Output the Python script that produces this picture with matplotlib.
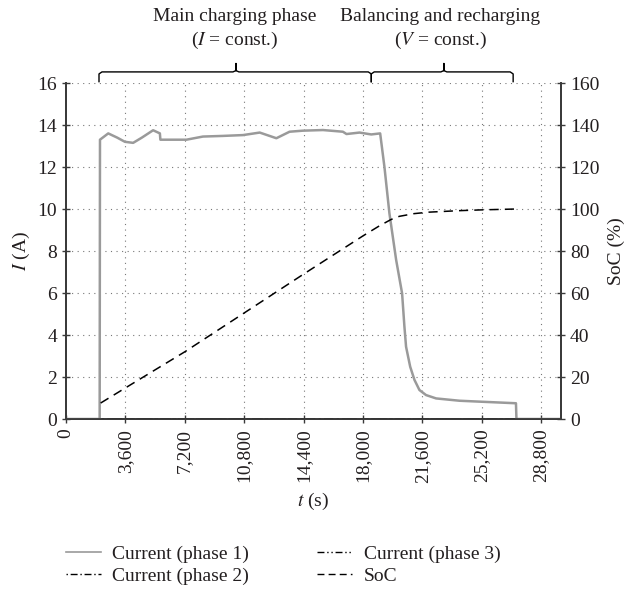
import matplotlib
matplotlib.use("Agg")
import matplotlib.pyplot as plt
from matplotlib.lines import Line2D
import matplotlib.transforms as mtransforms

plt.rcParams["font.family"] = ["Liberation Serif", "DejaVu Serif"]
plt.rcParams["mathtext.fontset"] = "stix"
plt.rcParams["font.size"] = 14

# Phase-1 current (A) over time (s)
t_i1 = [0, 2040, 2060, 2560, 3100, 3570, 4070, 4600, 5280, 5690, 5720, 6490,
        7300, 8300, 9500, 10730, 11740, 12750, 13550, 14360, 15570, 16780,
        17000, 17790, 18500, 19040, 19300, 19600, 20010, 20370, 20510, 20610,
        20860, 21120, 21420, 21820, 22430, 23840, 25250, 27270, 27300, 30000]
i_ph1 = [0, 0, 13.3, 13.6, 13.4, 13.2, 13.15, 13.4, 13.75, 13.6, 13.3, 13.3,
         13.3, 13.45, 13.48, 13.52, 13.64, 13.37, 13.68, 13.73, 13.76, 13.68,
         13.57, 13.64, 13.55, 13.6, 12.0, 9.8, 7.57, 5.98, 4.4, 3.44,
         2.49, 1.86, 1.38, 1.14, 0.98, 0.87, 0.82, 0.75, 0, 0]

# Phase-2 and phase-3 currents stay at zero
t_ph = [0, 30000]
i_ph2 = [0, 0]
i_ph3 = [0, 0]

# State of charge (%)
t_soc = [2100, 3600, 7200, 10800, 14400, 18000, 19000, 19700, 20200, 21100,
         22000, 23800, 25250, 27300]
soc = [7.6, 14.8, 32, 50.5, 69, 87.2, 92, 95, 96.5, 97.8, 98.5, 99.2, 99.6, 100]

x_ticks = [0, 3600, 7200, 10800, 14400, 18000, 21600, 25200, 28800]
x_tick_labels = ["0", "3,600", "7,200", "10,800", "14,400", "18,000",
                 "21,600", "25,200", "28,800"]
y_ticks = [0, 2, 4, 6, 8, 10, 12, 14, 16]
soc_ticks = [0, 20, 40, 60, 80, 100, 120, 140, 160]

# Phase brackets: (start, tip, end) in seconds
phase_brackets = [(2000, 10300, 18500), (18500, 22900, 27100)]
phase_titles = ["Main charging phase\n($I$ = const.)",
                "Balancing and recharging\n($V$ = const.)"]
title_x = [10200, 22700]

text_color = "#231f20"
spine_color = "#3a3a3a"
gray = "#9a9a9a"

fig = plt.figure(figsize=(6.3, 5.95), dpi=100)
ax = fig.add_axes([66 / 630, 1 - 419 / 595, (561 - 66) / 630, (419 - 83) / 595])
ax2 = ax.twinx()

ax.set_xlim(0, 30000)
ax.set_ylim(0, 16)
ax2.set_ylim(0, 160)

dot = (0, (1, 4))
for xv in x_ticks[1:]:
    ax.axvline(xv, color="#777777", lw=0.8, ls=dot, zorder=0)
for yv in y_ticks[1:]:
    ax.axhline(yv, color="#777777", lw=0.8, ls=dot, zorder=0)

ax.plot(t_ph, i_ph2, color="black", lw=1.3, ls=(0, (1, 2, 5, 2)), zorder=3)
ax.plot(t_ph, i_ph3, color="black", lw=1.3, ls=(0, (5, 2, 1, 2, 1, 2)), zorder=3)
ax.plot(t_i1, i_ph1, color=gray, lw=1.8, zorder=4, solid_joinstyle="round")
ax2.plot(t_soc, soc, color="black", lw=1.1, ls=(0, (6, 4)), zorder=5)

ax.set_xticks(x_ticks)
ax.set_xticklabels(x_tick_labels, rotation=90)
ax.set_yticks(y_ticks)
ax2.set_yticks(soc_ticks)

for a in (ax, ax2):
    a.tick_params(direction="inout", length=6, width=1, color=spine_color,
                  labelcolor=text_color, labelsize=14)
    a.spines["top"].set_visible(False)
    for s in ("left", "right", "bottom"):
        a.spines[s].set_color(spine_color)
        a.spines[s].set_linewidth(1.3)
ax.tick_params(axis="x", pad=4)

ax.set_xlabel("$t$ (s)", color=text_color, fontsize=14, labelpad=6)
ax.set_ylabel("$I$ (A)", color=text_color, fontsize=14, labelpad=4)
ax2.set_ylabel("SoC (%)", color=text_color, fontsize=14, labelpad=6)

# Curly brackets above the axes
trans = mtransforms.blended_transform_factory(ax.transData, ax.transAxes)
y_end, y_bar, y_tip = 1.004, 1.033, 1.058
for (x0, xm, x1), title, tx in zip(phase_brackets, phase_titles, title_x):
    r = 180
    xs = [x0, x0, x0 + r, xm - r, xm, xm, xm, xm + r, x1 - r, x1, x1]
    ys = [y_end, y_bar - 0.006, y_bar, y_bar, y_bar + 0.004, y_tip,
          y_bar + 0.004, y_bar, y_bar, y_bar - 0.006, y_end]
    ax.plot(xs, ys, color="black", lw=1.0, transform=trans, clip_on=False)
    ax.text(tx, 1.095, title, transform=trans, ha="center", va="bottom",
            fontsize=14, color=text_color, linespacing=1.3)

handles = [
    Line2D([], [], color=gray, lw=1.2),
    Line2D([], [], color="black", lw=1.0, ls=(0, (1, 2, 5, 2))),
    Line2D([], [], color="black", lw=1.0, ls=(0, (5, 2, 1, 2, 1, 2))),
    Line2D([], [], color="black", lw=1.0, ls=(0, (5, 3))),
]
labels = ["Current (phase 1)", "Current (phase 2)", "Current (phase 3)", "SoC"]
fig.legend(handles, labels, ncol=2, loc="upper left",
           bbox_to_anchor=(48 / 630, 1 - 528 / 595), frameon=False,
           fontsize=14, handlelength=1.8, handletextpad=0.6,
           columnspacing=3.5, labelspacing=0.2, labelcolor=text_color)

fig.savefig("out.png", dpi=100)
